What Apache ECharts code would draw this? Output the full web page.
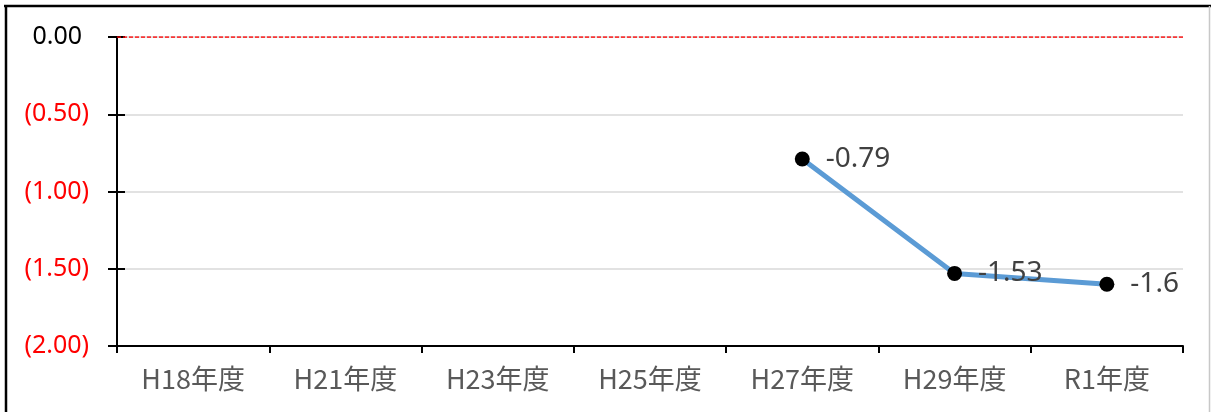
<!DOCTYPE html>
<html>
<head>
<meta charset="utf-8">
<script src="https://cdn.jsdelivr.net/npm/echarts@6/dist/echarts.min.js"></script>
<style>
html,body{margin:0;padding:0;background:#fff;}
#main{width:1211px;height:412px;}
</style>
</head>
<body>
<div id="main"></div>
<script>
const categories = ['H18年度', 'H21年度', 'H23年度', 'H25年度', 'H27年度', 'H29年度', 'R1年度'];
const values = [null, null, null, null, -0.79, -1.53, -1.6];
const yMin = -2;
const yMax = 0;
const yInterval = 0.5;
const refValue = 0;
const refEnds = ['start', 'end'];

const FONT = "'Noto Sans', 'Noto Sans CJK JP', sans-serif";
const chart = echarts.init(document.getElementById('main'), null, {renderer: 'canvas'});

chart.setOption({
  animation: false,
  backgroundColor: '#fff',
  grid: {left: 117, right: 28, top: 37, bottom: 66, containLabel: false},
  xAxis: [{
    type: 'category',
    data: categories,
    boundaryGap: true,
    axisLine: {show: true, onZero: false, lineStyle: {color: '#000', width: 2}},
    axisTick: {show: true, length: 7, lineStyle: {color: '#000', width: 2}},
    axisLabel: {color: '#595959', fontSize: 27, fontFamily: "'Noto Sans CJK JP', sans-serif", margin: 19},
    splitLine: {show: false}
  }, {
    type: 'category',
    data: refEnds,
    boundaryGap: false,
    show: false
  }],
  yAxis: [{
    type: 'value',
    min: yMin, max: yMax, interval: yInterval,
    axisLine: {show: true, lineStyle: {color: '#000', width: 2}},
    axisTick: {show: true, length: 9, lineStyle: {color: '#000', width: 2}},
    splitLine: {show: true, lineStyle: {color: '#d9d9d9', width: 1.5}},
    axisLabel: {
      margin: 28,
      fontFamily: FONT,
      fontSize: 25,
      formatter: function (v) {
        if (v < 0) return '{neg|(' + Math.abs(v).toFixed(2) + ')}';
        return '{pos|' + v.toFixed(2) + '}';
      },
      rich: {
        neg: {color: '#ff0000', fontSize: 25, fontFamily: FONT},
        pos: {color: '#000000', fontSize: 25, fontFamily: FONT, padding: [0, 7, 0, 0]}
      }
    }
  }, {
    type: 'value',
    position: 'left',
    min: yMin, max: yMax, interval: yInterval,
    axisLine: {show: false},
    axisTick: {show: true, inside: true, length: 8, lineStyle: {color: '#000', width: 2}},
    axisLabel: {show: false},
    splitLine: {show: false}
  }],
  series: [{
    type: 'line',
    name: 'ref',
    xAxisIndex: 1,
    yAxisIndex: 0,
    data: refEnds.map(function () { return refValue; }),
    symbol: 'none',
    silent: true,
    lineStyle: {color: '#ff0000', type: [4, 2], width: 1.3},
    itemStyle: {color: '#ff0000'},
    z: 2
  }, {
    type: 'line',
    name: 'value',
    data: values,
    connectNulls: false,
    lineStyle: {color: '#5B9BD5', width: 5},
    symbol: 'circle',
    symbolSize: 15,
    itemStyle: {color: '#000'},
    label: {
      show: true,
      position: 'right',
      distance: 16,
      color: '#404040',
      fontSize: 28,
      fontFamily: FONT,
      formatter: function (p) { return String(p.value); }
    },
    z: 3
  }],
  graphic: [
    {type: 'line', shape: {x1: 4, y1: 6, x2: 1211, y2: 6}, style: {stroke: '#000', lineWidth: 2.5}, z: 100},
    {type: 'line', shape: {x1: 6, y1: 5, x2: 6, y2: 412}, style: {stroke: '#000', lineWidth: 2.5}, z: 100},
    {type: 'line', shape: {x1: 1209.5, y1: 6, x2: 1209.5, y2: 412}, style: {stroke: '#c8c8c8', lineWidth: 1.5}, z: 100}
  ]
});
</script>
</body>
</html>
